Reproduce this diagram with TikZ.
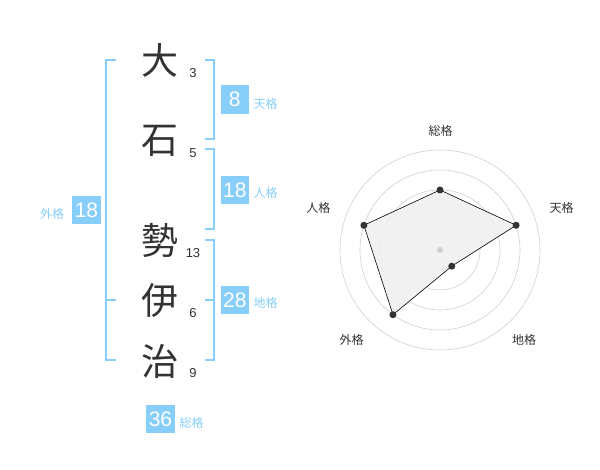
\documentclass[tikz,border=0pt]{standalone}
\usepackage{fontspec}
\setmainfont{Liberation Sans}
\newfontfamily\cjk{Noto Sans CJK JP}
\definecolor{sky}{RGB}{135,206,250}
\definecolor{ink}{RGB}{51,51,51}
\definecolor{ring}{RGB}{208,208,208}
\definecolor{area}{RGB}{240,240,240}
\begin{document}
\begin{tikzpicture}[x=1pt,y=-1pt,
  kanji/.style={font=\cjk\fontsize{37}{37}\selectfont,text=ink,inner sep=0pt},
  stroke/.style={font=\fontsize{13}{13}\selectfont,text=ink,inner sep=0pt},
  valbox/.style={fill=sky,text=white,minimum width=28.5pt,minimum height=28.5pt,inner sep=0pt,font=\fontsize{21}{21}\selectfont},
  gelabel/.style={font=\cjk\fontsize{12}{12}\selectfont,text=sky,inner sep=0pt,anchor=west},
  radlabel/.style={font=\cjk\fontsize{12}{12}\selectfont,text=ink,inner sep=0pt},
  brack/.style={draw=sky,line width=2pt},
  dot/.style={circle,fill=ink,inner sep=0pt,minimum size=7pt}]
\useasboundingbox (0,0) rectangle (600,470);
% kanji
\node[kanji] (k1) at (160,60) {大};
\node[kanji] (k2) at (160,141) {石};
\node[kanji] (k3) at (160,240) {勢};
\node[kanji] (k4) at (160,301) {伊};
\node[kanji] (k5) at (160,361) {治};
% stroke counts
\node[stroke] (n1) at (193,73) {3};
\node[stroke] (n2) at (193,153) {5};
\node[stroke] (n3) at (193,253) {13};
\node[stroke] (n4) at (193,313) {6};
\node[stroke] (n5) at (193,373) {9};
% brackets
\draw[brack] (205,60) -- (214.3,60) -- (214.3,139.3) -- (205,139.3);
\draw[brack] (205,149.3) -- (214.3,149.3) -- (214.3,229.3) -- (205,229.3);
\draw[brack] (205,240) -- (214.3,240) -- (214.3,360) -- (205,360);
\draw[brack] (205,300) -- (214.3,300);
\draw[brack] (116,60) -- (105.5,60) -- (105.5,360) -- (116,360);
\draw[brack] (105.5,300) -- (116,300);
% boxes
\node[valbox] (ten) at (234.8,99.5) {8};
\node[gelabel] (tenl) at (253.5,104) {天格};
\node[valbox] (jin) at (234.8,190) {18};
\node[gelabel] (jinl) at (253.5,193) {人格};
\node[valbox] (chi) at (234.8,300) {28};
\node[gelabel] (chil) at (253.5,303) {地格};
\node[valbox] (gai) at (86.5,210) {18};
\node[gelabel] (gail) at (40,214) {外格};
\node[valbox] (sou) at (160.5,419) {36};
\node[gelabel] (soul) at (179.5,422.5) {総格};
% radar
\begin{scope}[shift={(440,250)},yscale=-1]
  \foreach \r in {20,40,60,80,100} \draw[ring,line width=0.6pt] (0,0) circle (\r);
  \coordinate (pS) at (90:60);
  \coordinate (pT) at (18:80);
  \coordinate (pC) at (-54:20);
  \coordinate (pG) at (-126:80);
  \coordinate (pJ) at (162:80);
  \filldraw[fill=area,draw=black,line width=0.6pt,fill opacity=0.9] (pS) -- (pT) -- (pC) -- (pG) -- (pJ) -- cycle;
  \node[circle,fill=ring,inner sep=0pt,minimum size=6pt] (ctr) at (0,0) {};
  \node[dot] (dS) at (pS) {};
  \node[dot] (dT) at (pT) {};
  \node[dot] (dC) at (pC) {};
  \node[dot] (dG) at (pG) {};
  \node[dot] (dJ) at (pJ) {};
\end{scope}
\node[radlabel] (rS) at (440.7,130.5) {総格};
\node[radlabel] (rT) at (561.7,208.3) {天格};
\node[radlabel] (rC) at (524,340) {地格};
\node[radlabel] (rG) at (351.7,340) {外格};
\node[radlabel] (rJ) at (318.3,208.3) {人格};
\end{tikzpicture}
\end{document}
